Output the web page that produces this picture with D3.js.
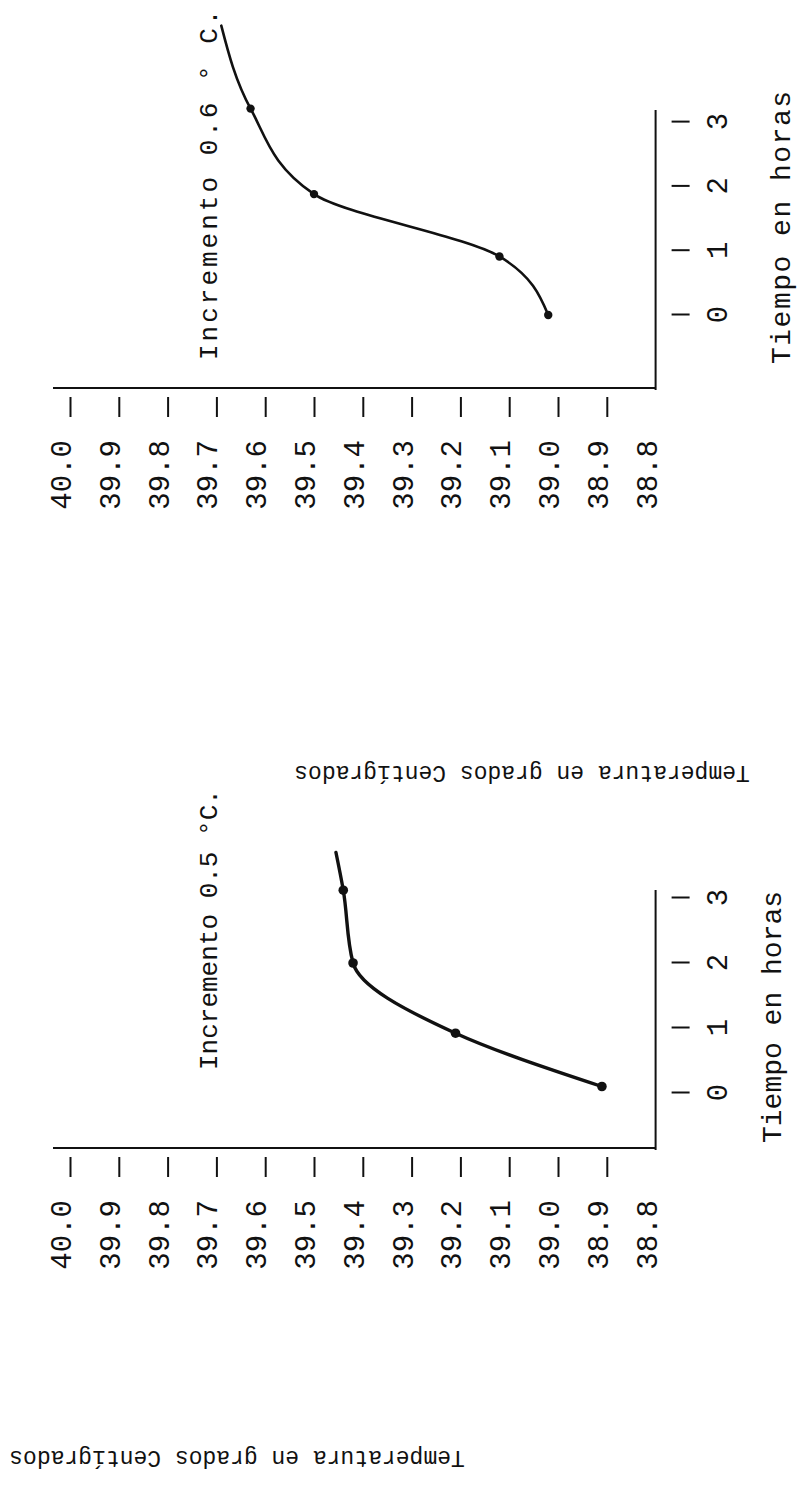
<!DOCTYPE html>
<html>
<head>
<meta charset="utf-8">
<script src="https://cdn.jsdelivr.net/npm/d3@7"></script>
<style>
  body { margin: 0; background: #fff; }
  text { font-family: "Liberation Mono", "Courier New", monospace; fill: #111; }
</style>
</head>
<body>
<svg id="chart" width="799" height="1492"></svg>
<script>
// tick labels
const tempTicks = [40.0, 39.9, 39.8, 39.7, 39.6, 39.5, 39.4, 39.3, 39.2, 39.1, 39.0, 38.9, 38.8];
const horaTicks = [0, 1, 2, 3];

// Incremento 0.6 (upper chart)
const horasA = [0, 0.91, 1.88, 3.21];
const tempsA = [39.02, 39.12, 39.50, 39.63];
const finA = [4.5, 39.69];   // where the drawn line stops

// Incremento 0.5 (lower chart)
const horasB = [0.1, 0.92, 2.0, 3.12];
const tempsB = [38.91, 39.21, 39.42, 39.44];
const finB = [3.7, 39.455];

const svg = d3.select("#chart");
const ink = "#111";

const temp = d3.scaleLinear().domain([38.8, 40.0]).range([655.6, 70]);

function grafico(cfg) {
  const time = d3.scaleLinear().domain([0, 3]).range([cfg.t0, cfg.t0 + 3 * cfg.hora]);

  // the whole chart is drawn normally, then turned a quarter to the left
  const g = svg.append("g")
      .attr("transform", `translate(0,${cfg.y0}) rotate(-90)`);

  // temperature axis
  const ay = g.append("g")
      .attr("transform", "translate(-9,0)")
      .call(d3.axisLeft(temp)
        .tickValues(tempTicks)
        .tickSize(20)
        .tickPadding(23)
        .tickFormat(d3.format(".1f")));
  ay.select(".domain").remove();
  ay.selectAll(".tick line").attr("stroke", ink).attr("stroke-width", 2)
    .filter(d => d === 38.8).remove();
  ay.selectAll(".tick text")
      .attr("dy", "0.02em")
      .style("font-size", "29px");

  // time axis
  const ax = g.append("g")
      .attr("transform", `translate(0,${temp(38.8) + 16})`)
      .call(d3.axisBottom(time)
        .tickValues(horaTicks)
        .tickSize(18)
        .tickFormat(d3.format("d")));
  ax.select(".domain").remove();
  ax.selectAll(".tick line").attr("stroke", ink).attr("stroke-width", 2);
  ax.selectAll(".tick text")
      .attr("y", 55)
      .attr("dy", 0)
      .style("font-size", "29px");

  // axis lines
  g.append("line")
      .attr("x1", 0).attr("x2", 0)
      .attr("y1", temp(40.0) - 17).attr("y2", temp(38.8))
      .attr("stroke", ink).attr("stroke-width", 2);
  g.append("line")
      .attr("x1", -2).attr("x2", time(3) + cfg.extra)
      .attr("y1", temp(38.8)).attr("y2", temp(38.8))
      .attr("stroke", ink).attr("stroke-width", 2);

  // curve
  const pts = cfg.horas.map((h, i) => [h, cfg.temps[i]]).concat([cfg.fin]);
  const line = d3.line()
      .x(d => time(d[0]))
      .y(d => temp(d[1]))
      .curve(d3.curveMonotoneX);

  g.append("path")
      .datum(pts)
      .attr("fill", "none")
      .attr("stroke", ink)
      .attr("stroke-width", cfg.grosor)
      .attr("stroke-linecap", "round")
      .attr("d", line);

  g.selectAll(".punto")
    .data(cfg.horas)
    .join("circle")
      .attr("class", "punto")
      .attr("cx", d => time(d))
      .attr("cy", (d, i) => temp(cfg.temps[i]))
      .attr("r", cfg.r)
      .attr("fill", ink);

  g.append("text")
      .attr("x", cfg.tituloX).attr("y", 217)
      .style("font-size", "26px")
      .style("letter-spacing", cfg.espacio + "px")
      .text(cfg.titulo);

  g.append("text")
      .attr("x", cfg.ejeX).attr("y", cfg.ejeY)
      .style("font-size", "28px")
      .style("letter-spacing", (cfg.espacio / 2) + "px")
      .text("Tiempo en horas");

  // temperature label, upside down under the chart
  svg.append("text")
      .attr("transform", `translate(${cfg.etq[0]},${cfg.etq[1]}) rotate(180)`)
      .attr("text-anchor", "middle")
      .style("font-size", "23px")
      .text("Temperatura en grados Centígrados");
}

grafico({
  y0: 388, t0: 73, hora: 64.3, extra: 12,
  horas: horasA, temps: tempsA, fin: finA,
  grosor: 2.6, r: 4.2,
  titulo: "Incremento 0.6 ° C.", tituloX: 28, espacio: 3,
  ejeX: 24, ejeY: 790,
  etq: [522, 766]
});

grafico({
  y0: 1148, t0: 55, hora: 65, extra: 8,
  horas: horasB, temps: tempsB, fin: finB,
  grosor: 3.4, r: 4.8,
  titulo: "Incremento 0.5 °C.", tituloX: 78, espacio: 0,
  ejeX: 5, ejeY: 781,
  etq: [237, 1451]
});
</script>
</body>
</html>
